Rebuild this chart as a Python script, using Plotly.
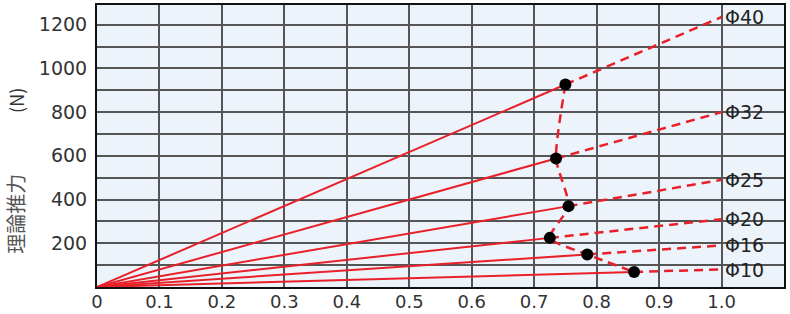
import plotly.graph_objects as go

# Data
bores = ["Φ10", "Φ16", "Φ20", "Φ25", "Φ32", "Φ40"]
force_at_1mpa = [80, 190, 310, 490, 800, 1235]        # N at 1.0 MPa
dot_pressure = [0.86, 0.785, 0.725, 0.755, 0.735, 0.75]  # MPa of the dot on each line
x_ticks = [0, 0.1, 0.2, 0.3, 0.4, 0.5, 0.6, 0.7, 0.8, 0.9, 1.0]
x_ticktext = ["0", "0.1", "0.2", "0.3", "0.4", "0.5", "0.6", "0.7", "0.8", "0.9", "1.0"]
y_ticks = list(range(0, 1300, 100))
y_ticktext = ["" if (v % 200 or v == 0) else str(v) for v in y_ticks]

RED = "#e8202a"
FONT = "DejaVu Sans"

fig = go.Figure()

for b, f, p in zip(bores, force_at_1mpa, dot_pressure):
    fdot = f * p
    fig.add_trace(go.Scatter(x=[0, p], y=[0, fdot], mode="lines",
                             line=dict(color=RED, width=2), showlegend=False, hoverinfo="skip"))
    fig.add_trace(go.Scatter(x=[p, 1.0], y=[fdot, f], mode="lines",
                             line=dict(color=RED, width=2.5, dash="9px,6px"),
                             showlegend=False, hoverinfo="skip"))

# connecting dashed curve through the dots (from Φ40 down to Φ10)
order = list(range(len(bores)))[::-1]
cx = [dot_pressure[i] for i in order]
cy = [force_at_1mpa[i] * dot_pressure[i] for i in order]
fig.add_trace(go.Scatter(x=cx, y=cy, mode="lines", line=dict(color=RED, width=2.5, dash="9px,6px",
                         shape="spline", smoothing=0.6), showlegend=False, hoverinfo="skip"))
fig.add_trace(go.Scatter(x=cx, y=cy, mode="markers",
                         marker=dict(color="black", size=12), showlegend=False, hoverinfo="skip"))

for b, f in zip(bores, force_at_1mpa):
    fig.add_annotation(x=1.0, y=f, text=b, showarrow=False, xanchor="left", yanchor="middle",
                       xshift=1, font=dict(family=FONT, size=19, color="#222"))

fig.add_annotation(xref="paper", yref="paper", x=0, y=0.66, xshift=-81, text="(N)", textangle=-90,
                   showarrow=False, font=dict(family="Noto Sans CJK JP", size=18, color="#333"),
                   xanchor="center", yanchor="middle")
fig.add_annotation(xref="paper", yref="paper", x=0, y=0.26, xshift=-81, text="理論推力", textangle=-90,
                   showarrow=False, font=dict(family="Noto Sans CJK JP", size=20, color="#555"),
                   xanchor="center", yanchor="middle")

fig.update_xaxes(range=[0, 1.1], tickvals=x_ticks, ticktext=x_ticktext, showgrid=True,
                 gridcolor="#555", gridwidth=2, zeroline=False, showline=True, linecolor="#111",
                 linewidth=2, mirror=True, ticks="", automargin=False, ticklabelstandoff=-3,
                 tickfont=dict(family=FONT, size=18, color="#333"))
fig.update_yaxes(range=[0, 1290], tickvals=y_ticks, ticktext=y_ticktext, showgrid=True,
                 gridcolor="#555", gridwidth=2, zeroline=False, showline=True, linecolor="#111",
                 linewidth=2, mirror=True, ticks="", ticklabelstandoff=4, automargin=False,
                 tickfont=dict(family=FONT, size=19, color="#333"))

fig.update_layout(width=790, height=314, margin=dict(l=97, r=6, t=5, b=27),
                  plot_bgcolor="#edf3fa", paper_bgcolor="white")

fig.write_html("out.html")
